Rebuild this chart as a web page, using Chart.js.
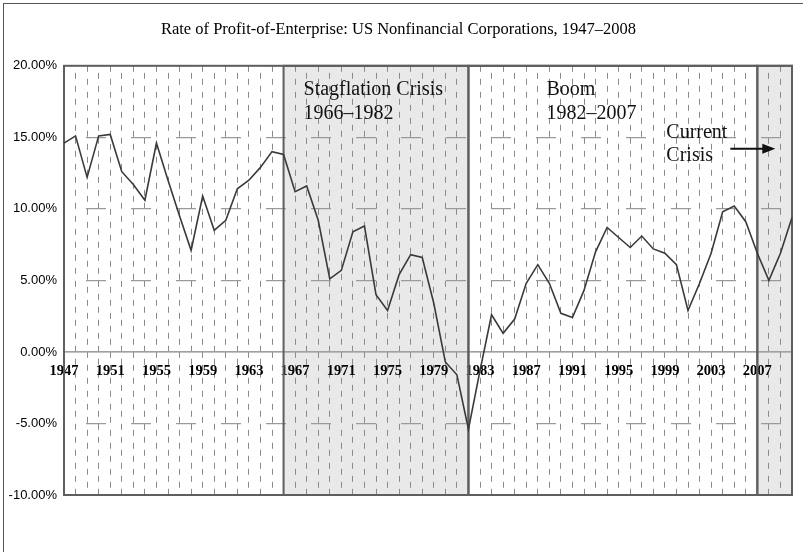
<!DOCTYPE html>
<html>
<head>
<meta charset="utf-8">
<title>Rate of Profit-of-Enterprise</title>
<script src="https://cdn.jsdelivr.net/npm/chart.js@4.4.1/dist/chart.umd.min.js"></script>
<style>
  html, body { margin: 0; padding: 0; background: #fff; overflow: hidden; }
  #wrap { position: relative; width: 803px; height: 552px; overflow: hidden; }
  #frame { position: absolute; left: 3px; top: 3px; width: 900px; height: 700px; border: 1.5px solid #555; }
  canvas { position: absolute; left: 0; top: 0; }
</style>
</head>
<body>
<div id="wrap">
  <div id="frame"></div>
  <canvas id="profitChart" width="803" height="552"></canvas>
</div>
<script>
// Years on the category axis
const years = [
  '1947','1948','1949','1950','1951','1952','1953','1954','1955','1956',
  '1957','1958','1959','1960','1961','1962','1963','1964','1965','1966',
  '1967','1968','1969','1970','1971','1972','1973','1974','1975','1976',
  '1977','1978','1979','1980','1981','1982','1983','1984','1985','1986',
  '1987','1988','1989','1990','1991','1992','1993','1994','1995','1996',
  '1997','1998','1999','2000','2001','2002','2003','2004','2005','2006',
  '2007','2008','2009','2010'
];

// Rate of profit-of-enterprise, percent
const profitRate = [
  14.6, 15.1, 12.2, 15.1, 15.2, 12.6, 11.7, 10.6, 14.6, 12.0,
  9.5, 7.1, 10.9, 8.5, 9.2, 11.4, 12.0, 12.9, 14.0, 13.8,
  11.2, 11.6, 9.2, 5.1, 5.7, 8.4, 8.8, 4.0, 2.9, 5.4,
  6.8, 6.6, 3.4, -0.7, -1.6, -5.4, -1.3, 2.6, 1.3, 2.3,
  4.8, 6.1, 4.8, 2.7, 2.4, 4.3, 7.0, 8.7, 8.0, 7.3,
  8.1, 7.2, 6.9, 6.1, 2.9, 4.8, 6.9, 9.8, 10.2, 9.1,
  6.9, 5.0, 6.9, 9.4
];

// Years that get a label on the x axis
const tickYears = ['1947','1951','1955','1959','1963','1967','1971','1975','1979',
  '1983','1987','1991','1995','1999','2003','2007'];

// Marked periods
const periodStart = ['1966', '1982', '2007'];
const periodEnd = ['1982', '2007', '2010'];
const periodShaded = [true, false, true];
const periodText = [['Stagflation Crisis', '1966\u20131982'], ['Boom', '1982\u20132007'], ['Current', 'Crisis']];

const periodsPlugin = {
  id: 'periods',
  beforeDraw(chart) {
    const { ctx, chartArea: a, scales: { x } } = chart;
    ctx.save();
    ctx.fillStyle = '#e9e9e9';
    periodStart.forEach((s, i) => {
      if (!periodShaded[i]) return;
      const x1 = x.getPixelForValue(years.indexOf(s));
      const x2 = x.getPixelForValue(years.indexOf(periodEnd[i]));
      ctx.fillRect(x1, a.top, x2 - x1, a.bottom - a.top);
    });
    ctx.restore();
  },
  beforeDatasetsDraw(chart) {
    const { ctx, chartArea: a, scales: { x } } = chart;
    ctx.save();
    ctx.strokeStyle = '#5e5e5e';
    ctx.lineWidth = 2;
    // frame of plot area
    ctx.strokeRect(a.left, a.top, a.right - a.left, a.bottom - a.top);
    periodStart.forEach((s, i) => {
      const x1 = x.getPixelForValue(years.indexOf(s));
      const x2 = x.getPixelForValue(years.indexOf(periodEnd[i]));
      ctx.strokeRect(x1, a.top, x2 - x1, a.bottom - a.top);
    });
    ctx.restore();
  },
  afterDatasetsDraw(chart) {
    const { ctx, chartArea: a, scales: { x } } = chart;
    ctx.save();
    ctx.fillStyle = '#111';
    ctx.font = '20px "Liberation Serif", serif';
    ctx.textBaseline = 'alphabetic';
    const offsets = [[20, 29], [78, 29], [-91, 72]];
    const gaps = [24, 24, 23];
    periodText.forEach((lines, i) => {
      const px = x.getPixelForValue(years.indexOf(periodStart[i])) + offsets[i][0];
      lines.forEach((t, j) => ctx.fillText(t, px, a.top + offsets[i][1] + j * gaps[i]));
    });
    // arrow into the current crisis
    const x0 = x.getPixelForValue(years.indexOf('2007'));
    const ay = a.top + 83;
    ctx.strokeStyle = '#111';
    ctx.lineWidth = 2;
    ctx.beginPath();
    ctx.moveTo(x0 - 27, ay);
    ctx.lineTo(x0 + 8, ay);
    ctx.stroke();
    ctx.beginPath();
    ctx.moveTo(x0 + 18, ay);
    ctx.lineTo(x0 + 5, ay - 5);
    ctx.lineTo(x0 + 5, ay + 5);
    ctx.closePath();
    ctx.fill();
    ctx.restore();
  }
};

const ctx = document.getElementById('profitChart').getContext('2d');
new Chart(ctx, {
  type: 'line',
  data: {
    labels: years,
    datasets: [{
      data: profitRate,
      borderColor: '#3a3a3a',
      borderWidth: 1.6,
      pointRadius: 0,
      tension: 0,
      fill: false
    }]
  },
  options: {
    responsive: false,
    animation: false,
    devicePixelRatio: 1,
    layout: { padding: { left: 0, right: 6, top: 0, bottom: 57 } },
    plugins: {
      legend: { display: false },
      tooltip: { enabled: false },
      title: {
        display: true,
        text: 'Rate of Profit-of-Enterprise: US Nonfinancial Corporations, 1947\u20132008',
        color: '#000',
        font: { family: 'Liberation Serif', size: 16.5, weight: 'normal', lineHeight: 1.2 },
        padding: { top: 20, bottom: 26 }
      }
    },
    scales: {
      x: {
        position: { y: 0 },
        offset: false,
        grid: { color: '#8a8a8a', lineWidth: 1, drawTicks: false, offset: false },
        border: {
          display: true, color: '#a0a0a0', width: 1.5,
          dash: [6, 7],
          dashOffset: c => (c.index % 2) * 6
        },
        ticks: {
          autoSkip: false,
          maxRotation: 0,
          padding: 11,
          color: '#000',
          font: { family: 'Liberation Serif', size: 14.5, weight: 'bold' },
          callback: function (v, i) {
            return tickYears.includes(years[i]) ? years[i] : '';
          }
        }
      },
      y: {
        min: -10,
        max: 20,
        afterFit: s => { s.width = 64; },
        grid: { color: '#9a9a9a', lineWidth: 1.2, drawTicks: false },
        border: {
          display: true, color: '#5e5e5e', width: 2,
          dash: c => (c.tick && c.tick.value === 0) ? [] : [20, 25],
          dashOffset: 24
        },
        ticks: {
          stepSize: 5,
          padding: 7,
          color: '#000',
          font: { family: "'Liberation Sans Narrow', 'Liberation Sans'", size: 13 },
          callback: v => v.toFixed(2) + '%'
        }
      }
    }
  },
  plugins: [periodsPlugin]
});
</script>
</body>
</html>
